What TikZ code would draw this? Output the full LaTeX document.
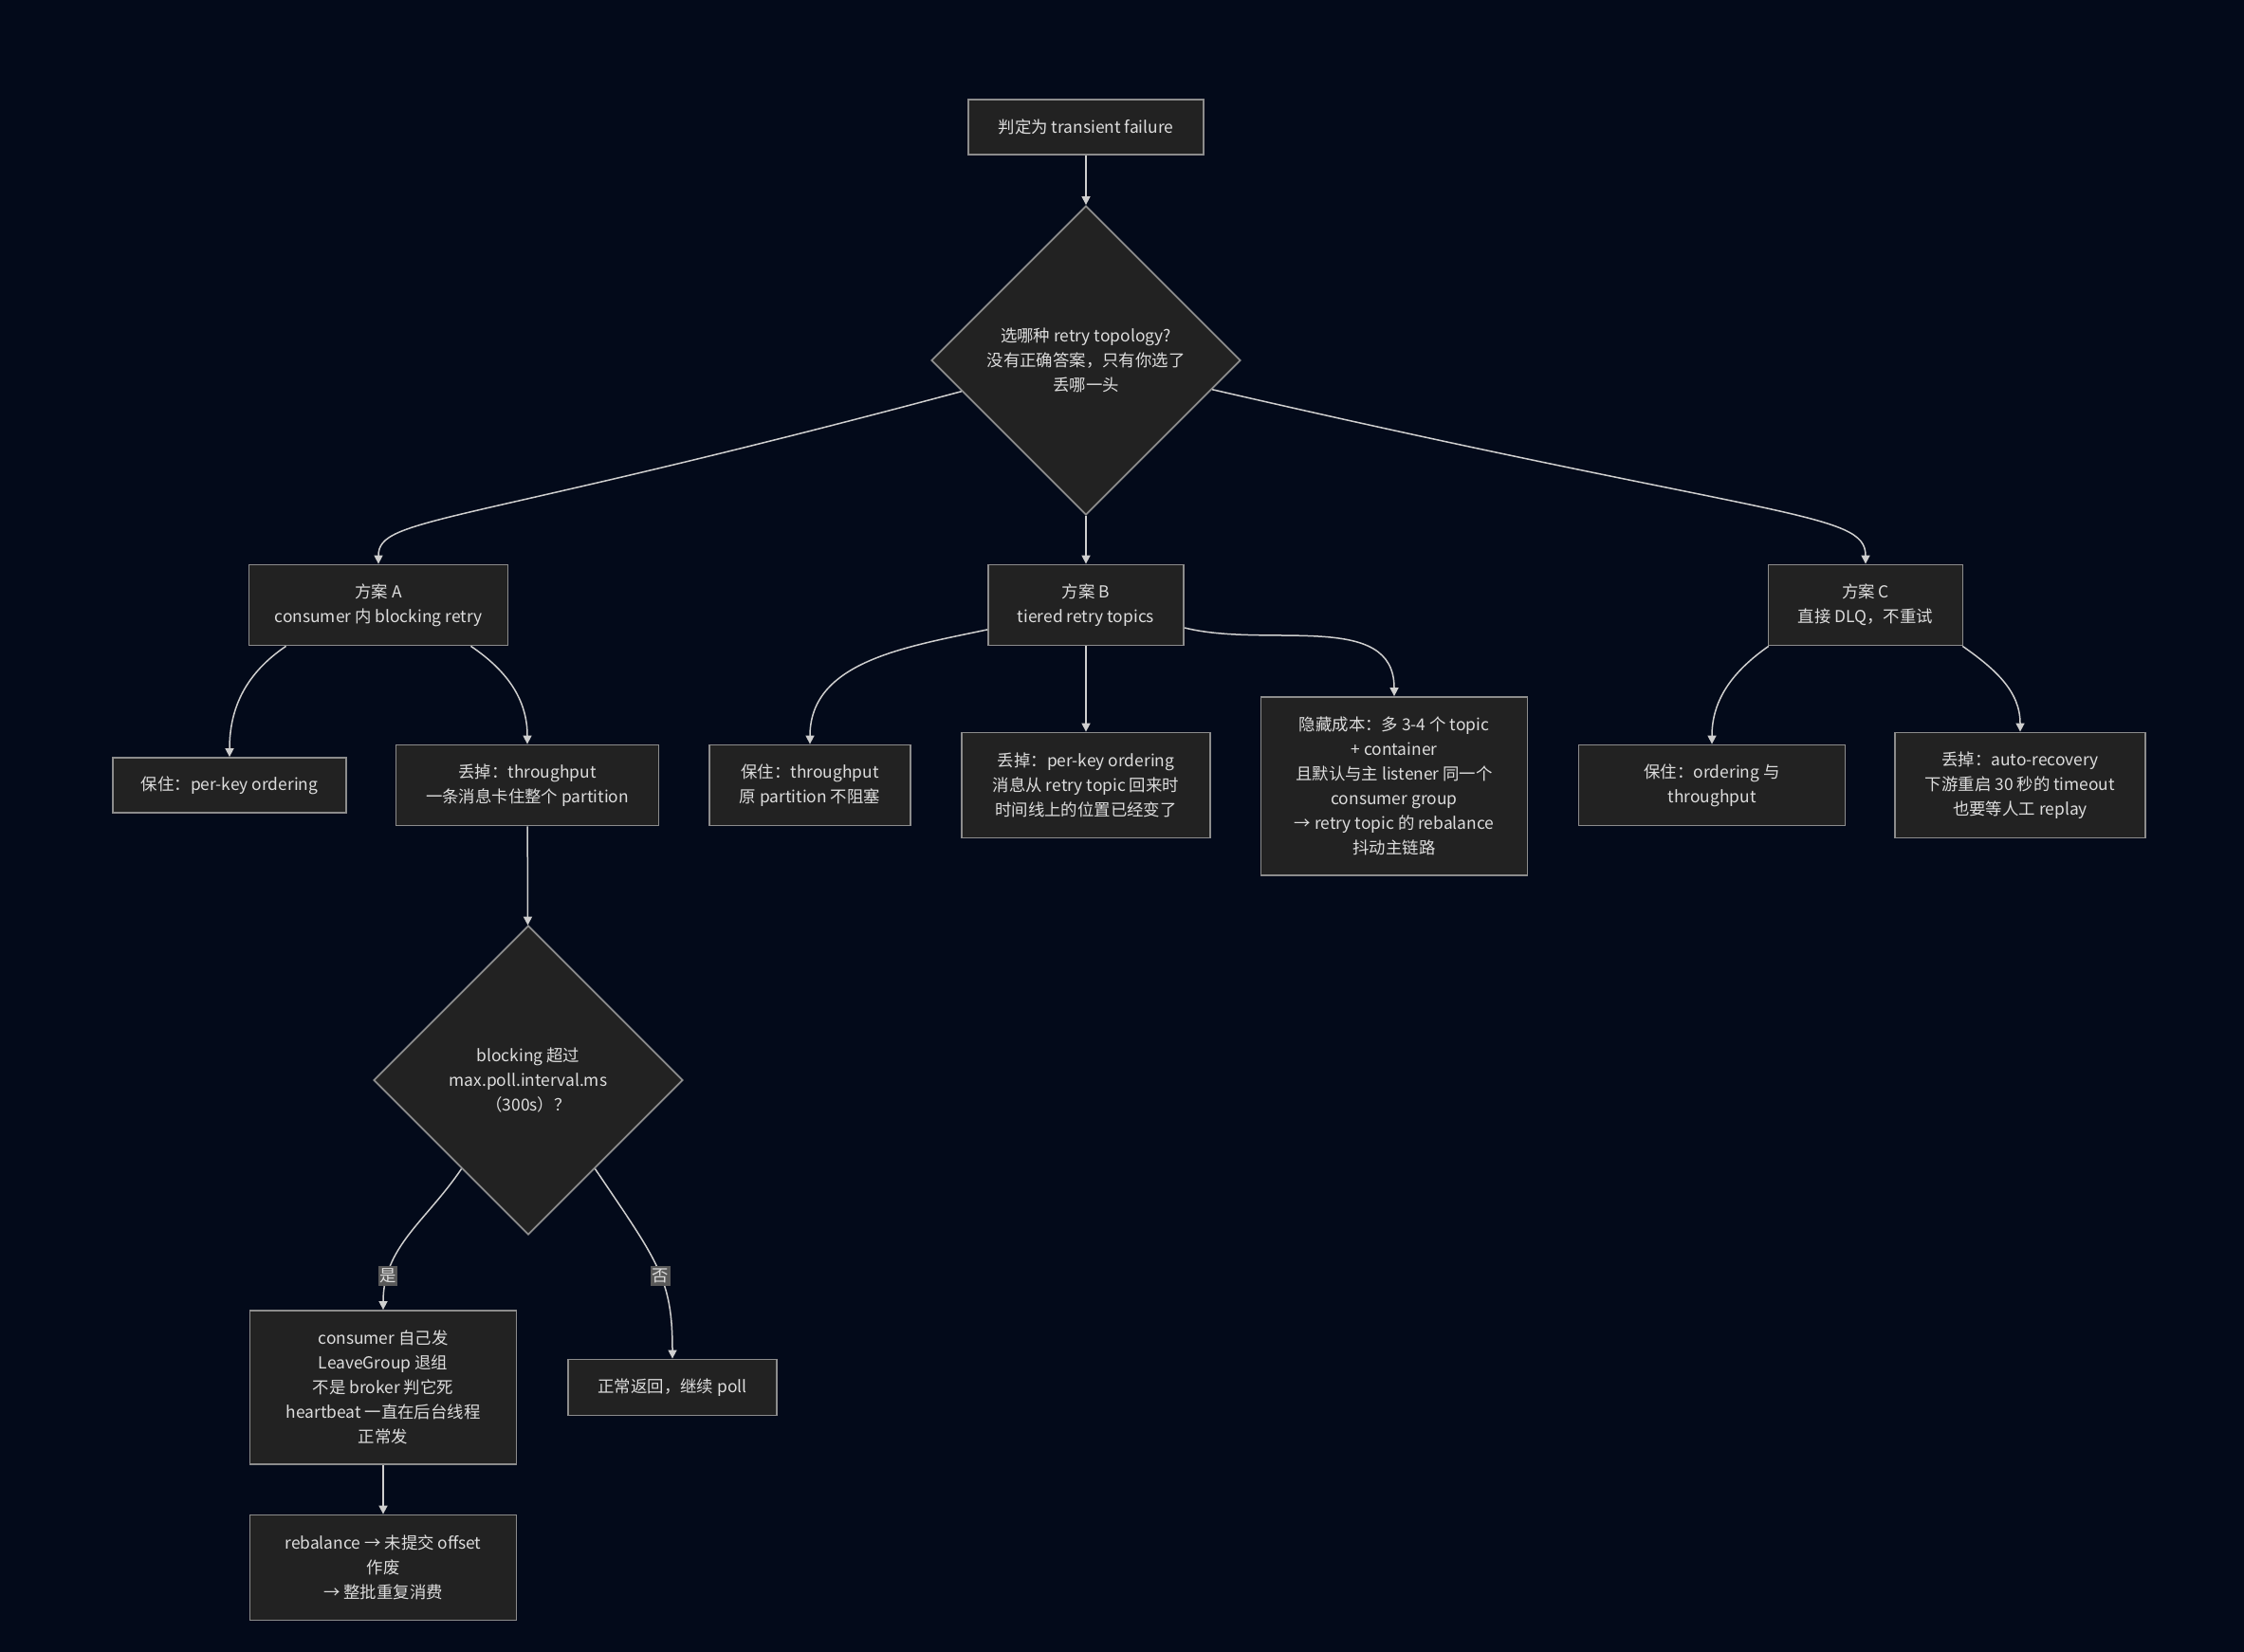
\documentclass[tikz,border=0pt]{standalone}
\usepackage{fontspec}
\setmainfont{Noto Sans CJK SC}
\usetikzlibrary{shapes.geometric,arrows.meta}

\definecolor{bgnavy}{HTML}{030A1A}
\definecolor{boxfill}{HTML}{222222}
\definecolor{boxline}{HTML}{8C8C8C}
\definecolor{edgeline}{HTML}{CFCFCF}
\definecolor{boxtext}{HTML}{DDDDDD}
\definecolor{lblfill}{HTML}{595959}

\begin{document}
\begin{tikzpicture}[x=1pt,y=1pt,
    font=\fontsize{17.4}{26}\selectfont,
    box/.style={draw=boxline,fill=boxfill,line width=1.8pt,text=boxtext,align=center,inner sep=0pt},
    choice/.style={diamond,aspect=1,draw=boxline,fill=boxfill,line width=1.8pt,text=boxtext,align=center,inner sep=0pt,minimum width=326pt,minimum height=326pt},
    flow/.style={draw=edgeline,line width=1.5pt,-{Triangle[length=9pt,width=9pt]}},
    elabel/.style={fill=lblfill,text=boxtext,inner xsep=1.5pt,inner ysep=3pt}]

    \def\W{2366}	%picture width
    \def\H{1742}	%picture height
    \def\lo{2.2}	%out looseness of the long edges
    \def\li{0.2}	%in looseness of the long edges

    %BACKGROUND
    \fill[bgnavy] (0,0) rectangle (\W,-\H);
    \useasboundingbox (0,0) rectangle (\W,-\H);

    %START + MAIN QUESTION
    \node[box,minimum width=248pt,minimum height=58pt] (fail) at (1145,-134) {判定为 transient failure};
    \node[choice] (topo) at (1145,-380) {选哪种 retry topology?\\没有正确答案，只有你选了\\丢哪一头};

    %THE THREE OPTIONS
    \node[box,minimum width=273pt,minimum height=85pt] (optA) at (399,-638) {方案 A\\consumer 内 blocking retry};
    \node[box,minimum width=206pt,minimum height=85pt] (optB) at (1145,-638) {方案 B\\tiered retry topics};
    \node[box,minimum width=205pt,minimum height=85pt] (optC) at (1967,-638) {方案 C\\直接 DLQ，不重试};

    %WHAT EACH OPTION KEEPS / DROPS
    \node[box,minimum width=246pt,minimum height=58pt] (keepA) at (242,-828) {保住：per-key ordering};
    \node[box,minimum width=277pt,minimum height=85pt] (dropA) at (556,-828) {丢掉：throughput\\一条消息卡住整个 partition};
    \node[box,minimum width=212pt,minimum height=85pt] (keepB) at (854,-828) {保住：throughput\\原 partition 不阻塞};
    \node[box,minimum width=262pt,minimum height=111pt] (dropB) at (1145,-828) {丢掉：per-key ordering\\消息从 retry topic 回来时\\时间线上的位置已经变了};
    \node[box,minimum width=281pt,minimum height=188pt] (costB) at (1470,-829) {隐藏成本：多 3-4 个 topic\\+ container\\且默认与主 listener 同一个\\consumer group\\→ retry topic 的 rebalance\\抖动主链路};
    \node[box,minimum width=281pt,minimum height=85pt] (keepC) at (1805,-828) {保住：ordering 与\\throughput};
    \node[box,minimum width=264pt,minimum height=111pt] (dropC) at (2130,-828) {丢掉：auto-recovery\\下游重启 30 秒的 timeout\\也要等人工 replay};

    %BLOCKING TIMEOUT BRANCH
    \node[choice] (poll) at (557,-1139) {blocking 超过\\max.poll.interval.ms\\（300s）？};
    \node[box,minimum width=281pt,minimum height=162pt] (leave) at (404,-1463) {consumer 自己发\\LeaveGroup 退组\\不是 broker 判它死\\heartbeat 一直在后台线程\\正常发};
    \node[box,minimum width=220pt,minimum height=59pt] (goon) at (709,-1463) {正常返回，继续 poll};
    \node[box,minimum width=281pt,minimum height=111pt] (replay) at (404,-1653) {rebalance → 未提交 offset\\作废\\→ 整批重复消费};

    %EDGES
    \draw[flow] (fail) -- (topo);
    \draw[flow] (topo.194) to[out=195,in=90,out looseness=\lo,in looseness=\li] (optA);
    \draw[flow] (topo) -- (optB);
    \draw[flow] (topo.347) to[out=-13,in=90,out looseness=\lo,in looseness=\li] (optC);

    \draw[flow] (optA.204) to[out=214,in=90] (keepA);
    \draw[flow] (optA.336) to[out=-34,in=90] (dropA);
    \draw[flow] (optB.194) to[out=192,in=90] (keepB);
    \draw[flow] (optB) -- (dropB);
    \draw[flow] (optB.347) to[out=-14,in=90] (costB);
    \draw[flow] (optC.203) to[out=215,in=90] (keepC);
    \draw[flow] (optC.337) to[out=-35,in=90] (dropC);

    \draw[flow] (dropA) -- (poll);
    \draw[flow] (poll.233) to[out=236,in=90] node[elabel,pos=0.8] (yes) {是} (leave);
    \draw[flow] (poll.307) to[out=-56,in=90,out looseness=1.4,in looseness=1.0] node[elabel,pos=0.55] (no) {否} (goon);
    \draw[flow] (leave) -- (replay);
\end{tikzpicture}
\end{document}
